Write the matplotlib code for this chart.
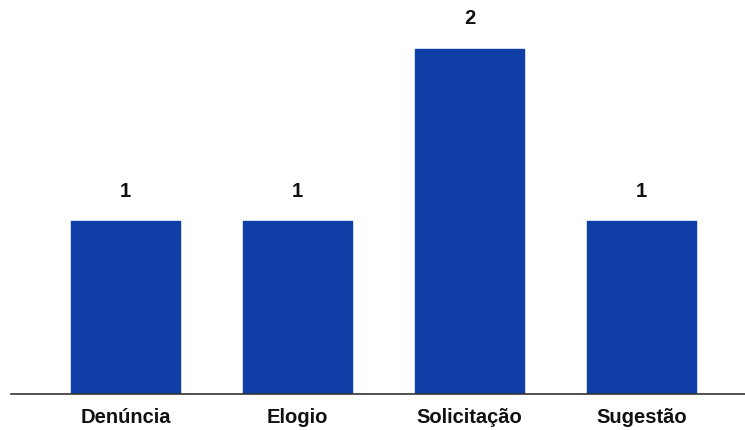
import matplotlib.pyplot as plt

categories = ["Denúncia", "Elogio", "Solicitação", "Sugestão"]
values = [1, 1, 2, 1]

bar_color = "#0f3fa6"

plt.rcParams["font.family"] = ["Liberation Sans", "DejaVu Sans"]

fig = plt.figure(figsize=(7.45, 4.3), dpi=100)
ax = fig.add_axes([11 / 745, 36 / 430, 734 / 745, 394 / 430])

x = range(len(categories))
bars = ax.bar(x, values, width=0.635, color=bar_color, edgecolor=bar_color,
              linewidth=1.0, joinstyle="round", zorder=2)

for xi, v in zip(x, values):
    ax.text(xi, v + 0.175, str(v), ha="center", va="center",
            fontsize=14.5, fontweight="bold", color="#111111")

ax.set_xlim(-0.666, 3.602)
ax.set_ylim(0, 2.284)

ax.set_xticks(list(x))
ax.set_xticklabels(categories, fontsize=14.5, fontweight="bold", color="#111111")
ax.tick_params(axis="x", length=0, pad=10)
ax.set_yticks([])

for side in ["top", "right", "left"]:
    ax.spines[side].set_visible(False)
ax.spines["bottom"].set_color("#333333")
ax.spines["bottom"].set_linewidth(1.2)

fig.savefig("out.png", dpi=100)
